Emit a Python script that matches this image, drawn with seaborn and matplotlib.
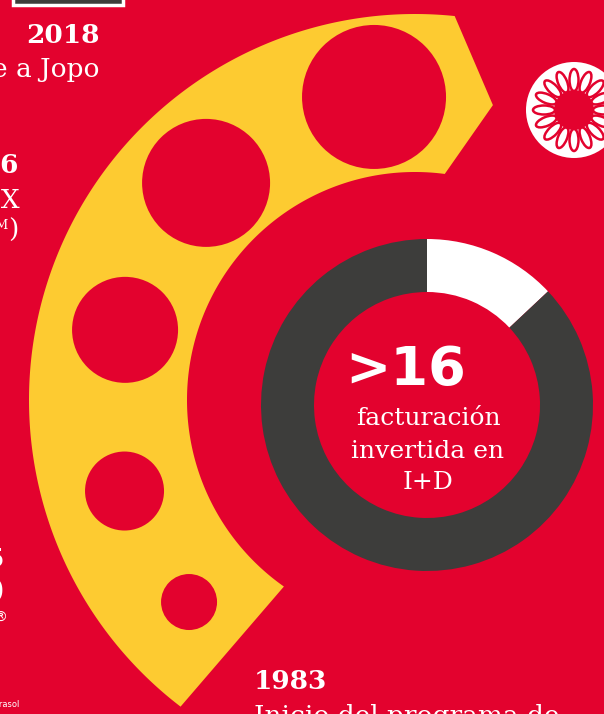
import numpy as np
import matplotlib
matplotlib.use("Agg")
import matplotlib.pyplot as plt
from matplotlib.patches import Circle, Polygon, Ellipse, Rectangle
import seaborn as sns

# ---------------- data ----------------
share_labels = ["I+D", "resto"]
share_values = [13, 87]                       # share of the ring shown in white
headline = ">16"
headline_caption = ["facturación", "invertida en", "I+D"]

timeline_years = ["2018", "2016", "2005", "1983"]
timeline_texts = ["Viaje a Jopo", "Serie X", "(Parasol)", "Inicio del programa de"]
circle_sizes = [72, 64, 53, 39.5, 28]                # radius of each milestone circle

RED = "#E3022E"
YELLOW = "#FDCB31"
DARK = "#3D3D3B"
WHITE = "#FFFFFF"

sns.set_theme(style="white")
plt.rcParams["font.family"] = ["DejaVu Sans"]

W, H = 604, 714
fig = plt.figure(figsize=(W / 100, H / 100), dpi=100, facecolor=RED)
ax = fig.add_axes([0, 0, 1, 1])
ax.set_facecolor(RED)

def Y(y):
    return H - y

# ---------------- yellow arc band ----------------
cx, cy = 415, Y(400)
r_out, r_in, r_mid = 386, 228, 305
t_out = np.radians(np.linspace(84.1, 232.6, 300))
t_in = np.radians(np.linspace(234.9, 82.5, 300))
tip = np.radians(75.2)
pts = [(cx + r_mid * np.cos(tip), cy + r_mid * np.sin(tip))]
pts += list(zip(cx + r_out * np.cos(t_out), cy + r_out * np.sin(t_out)))
pts += list(zip(cx + r_in * np.cos(t_in), cy + r_in * np.sin(t_in)))
ax.add_patch(Polygon(pts, closed=True, facecolor=YELLOW, edgecolor="none", zorder=1))

circle_pos = [(97.7, 305.8), (133.9, 301.3), (166.4, 298.3), (197.4, 304.4), (221.8, 303.1)]
for (ang, dist), rad in zip(circle_pos, circle_sizes):
    a = np.radians(ang)
    ax.add_patch(Circle((cx + dist * np.cos(a), cy + dist * np.sin(a)), rad,
                        facecolor=RED, edgecolor="none", zorder=2))

# ---------------- donut ----------------
dcx, dcy = 427, Y(405)
ax.pie(share_values, colors=[WHITE, DARK], startangle=90, counterclock=False,
       radius=166, center=(dcx, dcy), frame=True,
       wedgeprops=dict(width=53, edgecolor="none", linewidth=0))

ax.text(406, Y(385), headline, ha="center", va="baseline", color=WHITE,
        fontsize=39, fontweight="bold", family=["DejaVu Sans"], zorder=5)
for txt, yb in zip(headline_caption, [425, 458, 489]):
    ax.text(428, Y(yb), txt, ha="center", va="baseline", color=WHITE,
            fontsize=18, family=["DejaVu Serif"], zorder=5)

# ---------------- flower icon ----------------
fcx, fcy = 574, Y(110)
ax.add_patch(Circle((fcx, fcy), 48, facecolor=WHITE, edgecolor="none", zorder=3))
for k in range(16):
    a = np.radians(90 + k * 360 / 16)
    rc = 30
    ax.add_patch(Ellipse((fcx + rc * np.cos(a), fcy + rc * np.sin(a)), 22, 9,
                         angle=np.degrees(a), facecolor=WHITE, edgecolor=RED,
                         linewidth=1.8, zorder=4))
ax.add_patch(Circle((fcx, fcy), 20, facecolor=RED, edgecolor="none", zorder=5))

# ---------------- top-left box ----------------
ax.add_patch(Rectangle((13, Y(5)), 110, 20, facecolor=DARK, edgecolor=WHITE,
                       linewidth=2.5, zorder=5))

# ---------------- timeline texts (clipped at left edge) ----------------
bold_font = ["DejaVu Serif"]
ax.text(100, Y(43), timeline_years[0], ha="right", va="baseline", color=WHITE,
        fontsize=19, fontweight="bold", family=bold_font, zorder=6)
ax.text(100, Y(77), timeline_texts[0], ha="right", va="baseline", color=WHITE,
        fontsize=19, family=["DejaVu Serif"], zorder=6)

ax.text(19, Y(173), timeline_years[1], ha="right", va="baseline", color=WHITE,
        fontsize=19, fontweight="bold", family=bold_font, zorder=6)
ax.text(20, Y(208), timeline_texts[1], ha="right", va="baseline", color=WHITE,
        fontsize=19, family=["DejaVu Serif"], zorder=6)
ax.text(19, Y(238), ")", ha="right", va="baseline", color=WHITE,
        fontsize=19, family=["DejaVu Serif"], zorder=6)
ax.text(9, Y(229), "TM", ha="right", va="baseline", color=WHITE,
        fontsize=9, family=["DejaVu Serif"], zorder=6)

ax.text(5, Y(567), timeline_years[2], ha="right", va="baseline", color=WHITE,
        fontsize=19, fontweight="bold", family=bold_font, zorder=6)
ax.text(5, Y(598), timeline_texts[2], ha="right", va="baseline", color=WHITE,
        fontsize=19, family=["DejaVu Serif"], zorder=6)
ax.text(7, Y(618), "®", ha="right", va="center", color=WHITE,
        fontsize=10, family=["DejaVu Sans"], zorder=6)
ax.text(19, Y(707), "Parasol", ha="right", va="baseline", color=WHITE,
        fontsize=6, family=["DejaVu Sans"], zorder=6)

ax.text(254, Y(689), timeline_years[3], ha="left", va="baseline", color=WHITE,
        fontsize=19, fontweight="bold", family=bold_font, zorder=6)
ax.text(254, Y(724), timeline_texts[3], ha="left", va="baseline", color=WHITE,
        fontsize=19, family=["DejaVu Serif"], zorder=6)

ax.set_xlim(0, W)
ax.set_ylim(0, H)
ax.set_axis_off()
fig.savefig("out.png", dpi=100, facecolor=RED)
